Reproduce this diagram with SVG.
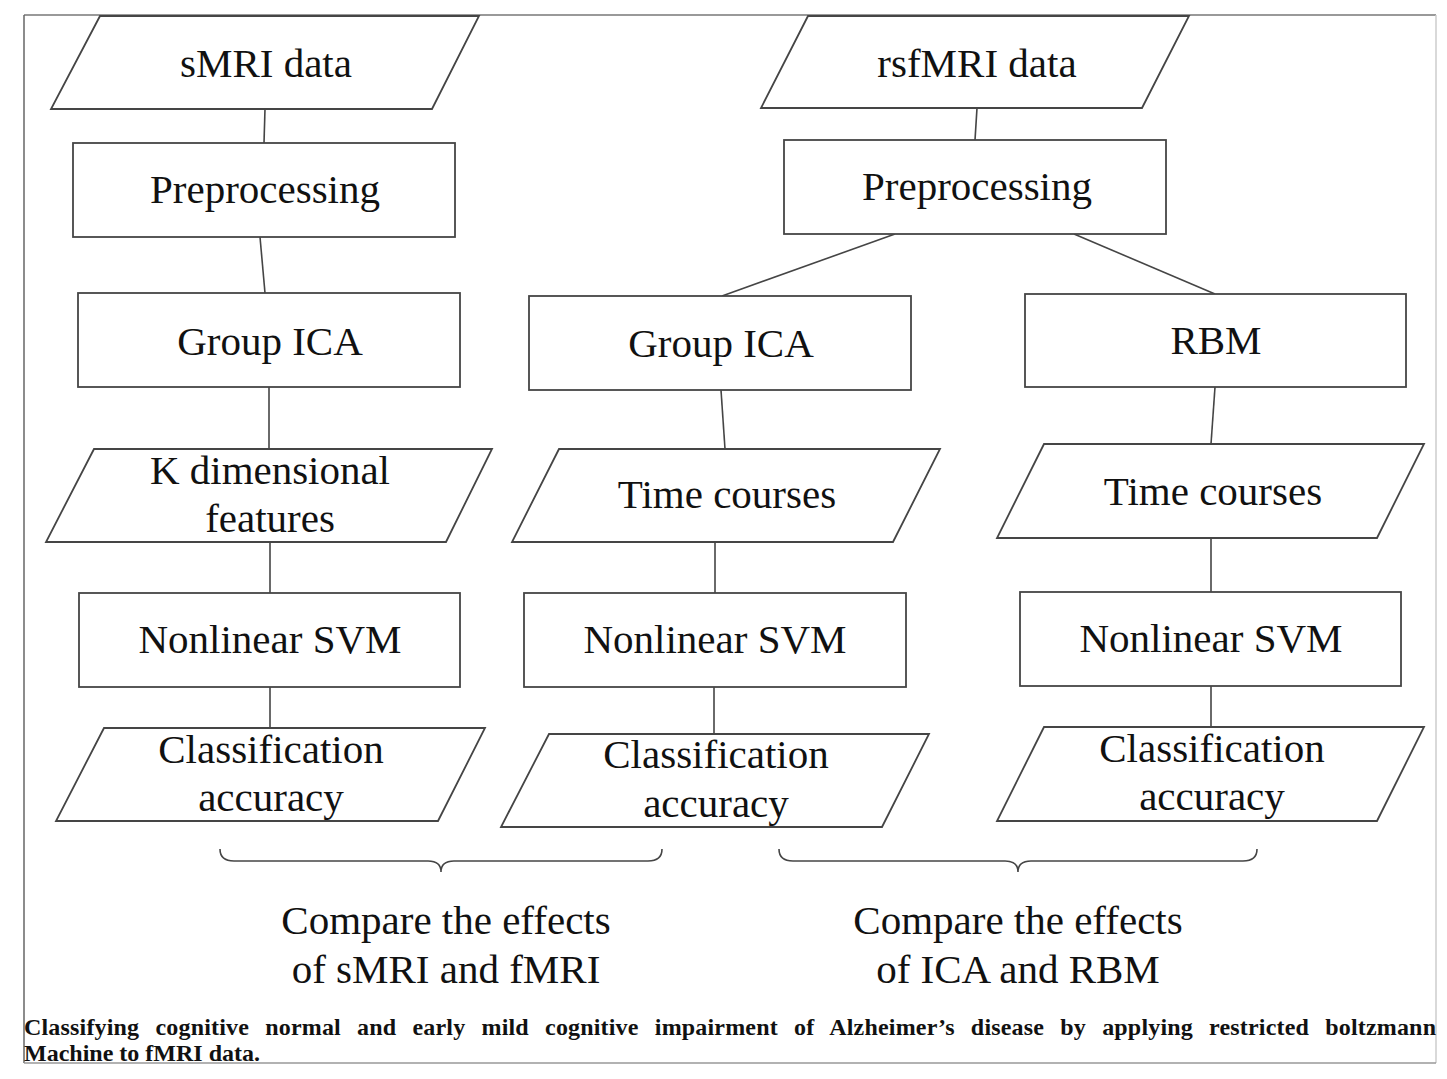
<svg xmlns="http://www.w3.org/2000/svg" width="1447" height="1079" viewBox="0 0 1447 1079">
<style>
.s{fill:#fff;stroke:#454545;stroke-width:1.8}
.c{fill:none;stroke:#454545;stroke-width:1.6}
.t{font-family:"Liberation Serif","Times New Roman",serif;font-size:41px;fill:#111;text-anchor:middle}
.cap{font-family:"Liberation Serif","Times New Roman",serif;font-size:24px;font-weight:bold;fill:#111}
</style>
<rect width="1447" height="1079" fill="#fff"/>
<g id="frame">
<line x1="24" y1="15" x2="1436" y2="15" stroke="#777" stroke-width="1.5"/>
<line x1="24" y1="15" x2="24" y2="1063" stroke="#666" stroke-width="1.5"/>
<line x1="1436" y1="15" x2="1436" y2="1063" stroke="#ccc" stroke-width="1.5"/>
<line x1="24" y1="1063" x2="1436" y2="1063" stroke="#999" stroke-width="1.5"/>
</g>
<g id="connectors">
<line class="c" x1="265" y1="109" x2="264" y2="143"/>
<line class="c" x1="260" y1="237" x2="265" y2="293"/>
<line class="c" x1="269" y1="387" x2="269" y2="449"/>
<line class="c" x1="270" y1="542" x2="270" y2="593"/>
<line class="c" x1="270" y1="687" x2="270" y2="728"/>
<line class="c" x1="977" y1="108" x2="975" y2="140"/>
<line class="c" x1="895" y1="234" x2="722" y2="296"/>
<line class="c" x1="1074" y1="234" x2="1215" y2="294"/>
<line class="c" x1="721" y1="390" x2="725" y2="449"/>
<line class="c" x1="715" y1="542" x2="715" y2="593"/>
<line class="c" x1="714" y1="687" x2="714" y2="734"/>
<line class="c" x1="1215" y1="387" x2="1211" y2="444"/>
<line class="c" x1="1211" y1="538" x2="1211" y2="592"/>
<line class="c" x1="1211" y1="686" x2="1211" y2="727"/>
</g>
<g id="smri-data"><polygon class="s" points="100,16 479,16 432,109 51,109"/><text class="t" x="266" y="77">sMRI data</text></g>
<g id="preproc-left"><rect class="s" x="73" y="143" width="382" height="94"/><text class="t" x="265" y="203">Preprocessing</text></g>
<g id="groupica-left"><rect class="s" x="78" y="293" width="382" height="94"/><text class="t" x="270" y="355">Group ICA</text></g>
<g id="kdim"><polygon class="s" points="94,449 492,449 446,542 46,542"/><text class="t" x="270" y="484" textLength="240" lengthAdjust="spacingAndGlyphs">K dimensional</text><text class="t" x="270" y="532">features</text></g>
<g id="svm-left"><rect class="s" x="79" y="593" width="381" height="94"/><text class="t" x="270" y="653" textLength="263" lengthAdjust="spacing">Nonlinear SVM</text></g>
<g id="acc-left"><polygon class="s" points="104,728 485,728 438,821 56,821"/><text class="t" x="271" y="763">Classification</text><text class="t" x="271" y="811">accuracy</text></g>
<g id="rsfmri-data"><polygon class="s" points="808,16 1189,16 1142,108 761,108"/><text class="t" x="977" y="77">rsfMRI data</text></g>
<g id="preproc-right"><rect class="s" x="784" y="140" width="382" height="94"/><text class="t" x="977" y="200">Preprocessing</text></g>
<g id="groupica-mid"><rect class="s" x="529" y="296" width="382" height="94"/><text class="t" x="721" y="357">Group ICA</text></g>
<g id="rbm"><rect class="s" x="1025" y="294" width="381" height="93"/><text class="t" x="1216" y="354">RBM</text></g>
<g id="time-mid"><polygon class="s" points="559,449 940,449 893,542 512,542"/><text class="t" x="727" y="508">Time courses</text></g>
<g id="svm-mid"><rect class="s" x="524" y="593" width="382" height="94"/><text class="t" x="715" y="653" textLength="263" lengthAdjust="spacing">Nonlinear SVM</text></g>
<g id="acc-mid"><polygon class="s" points="549,734 929,734 882,827 501,827"/><text class="t" x="716" y="768">Classification</text><text class="t" x="716" y="817">accuracy</text></g>
<g id="time-right"><polygon class="s" points="1044,444 1424,444 1377,538 997,538"/><text class="t" x="1213" y="505">Time courses</text></g>
<g id="svm-right"><rect class="s" x="1020" y="592" width="381" height="94"/><text class="t" x="1211" y="652" textLength="263" lengthAdjust="spacing">Nonlinear SVM</text></g>
<g id="acc-right"><polygon class="s" points="1044,727 1424,727 1377,821 997,821"/><text class="t" x="1212" y="762">Classification</text><text class="t" x="1212" y="810">accuracy</text></g>
<g id="brace-left"><path class="c" d="M220,849 Q220,861 234,861 L428,861 Q441,861 441,872 Q441,861 454,861 L648,861 Q662,861 662,849"/></g>
<g id="brace-right"><path class="c" d="M779,849 Q779,861 793,861 L1005,861 Q1018,861 1018,872 Q1018,861 1031,861 L1243,861 Q1257,861 1257,849"/></g>
<g id="compare-left"><text class="t" x="446" y="934">Compare the effects</text><text class="t" x="446" y="983">of sMRI and fMRI</text></g>
<g id="compare-right"><text class="t" x="1018" y="934">Compare the effects</text><text class="t" x="1018" y="983">of ICA and RBM</text></g>
<g id="caption">
<text class="cap" x="24" y="1035" textLength="1412" lengthAdjust="spacing" word-spacing="10">Classifying cognitive normal and early mild cognitive impairment of Alzheimer’s disease by applying restricted boltzmann</text>
<text class="cap" x="24" y="1061">Machine to fMRI data.</text>
</g>
</svg>
